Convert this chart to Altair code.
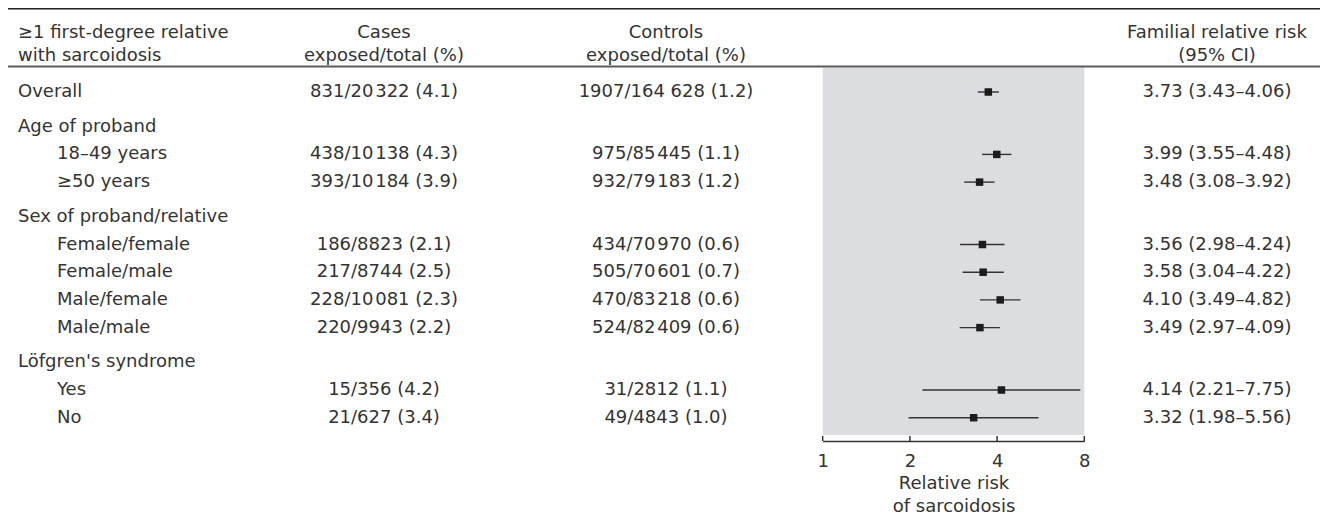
import altair as alt
import pandas as pd

# ---------------- data ----------------
labels = ["Overall", "Age of proband", "18–49 years", "≥50 years",
          "Sex of proband/relative", "Female/female", "Female/male",
          "Male/female", "Male/male", "Löfgren's syndrome", "Yes", "No"]
is_group = [True, True, False, False, True, False, False, False, False,
            True, False, False]
group_id = [0, 1, 1, 1, 2, 2, 2, 2, 2, 3, 3, 3]
cases = ["831/20\u200a322 (4.1)", "", "438/10\u200a138 (4.3)", "393/10\u200a184 (3.9)", "",
         "186/8823 (2.1)", "217/8744 (2.5)", "228/10\u200a081 (2.3)", "220/9943 (2.2)", "",
         "15/356 (4.2)", "21/627 (3.4)"]
controls = ["1907/164 628 (1.2)", "", "975/85\u200a445 (1.1)", "932/79\u200a183 (1.2)", "",
            "434/70\u200a970 (0.6)", "505/70\u200a601 (0.7)", "470/83\u200a218 (0.6)",
            "524/82\u200a409 (0.6)", "", "31/2812 (1.1)", "49/4843 (1.0)"]
rr = [3.73, None, 3.99, 3.48, None, 3.56, 3.58, 4.10, 3.49, None, 4.14, 3.32]
rr_lo = [3.43, None, 3.55, 3.08, None, 2.98, 3.04, 3.49, 2.97, None, 2.21, 1.98]
rr_hi = [4.06, None, 4.48, 3.92, None, 4.24, 4.22, 4.82, 4.09, None, 7.75, 5.56]

header_left = ["≥1 first-degree relative", "with sarcoidosis"]
header_cases = ["Cases", "exposed/total (%)"]
header_controls = ["Controls", "exposed/total (%)"]
header_rr = ["Familial relative risk", "(95% CI)"]
x_ticks = [1, 2, 4, 8]
x_domain = [1, 8]
x_title = ["Relative risk", "of sarcoidosis"]

# ---------------- layout constants ----------------
FONT = "DejaVu Sans"
FS = 18
TXT = "#333333"
W, H = 1312, 433
ROW = 27.7          # px per row
GAP = 0.253         # extra gap (in rows) before each group
Y0 = 84             # plot y of first row

pos = [i + GAP * g for i, g in enumerate(group_id)]
rows = pd.DataFrame({"label": labels, "group": is_group, "pos": pos,
                     "cases": cases, "controls": controls,
                     "rr": rr, "lo": rr_lo, "hi": rr_hi})
rows["rr_text"] = [
    f"{a:.2f} ({b:.2f}–{c:.2f})" if a is not None and a == a else ""
    for a, b, c in zip(rr, rr_lo, rr_hi)
]
est = rows.dropna(subset=["rr"])

y_scale = alt.Scale(domain=[-Y0 / ROW, (H - Y0) / ROW], range=[0, H],
                    zero=False, nice=False)
x_scale = alt.Scale(type="log", base=2, domain=x_domain,
                    range=[814.7, 1076.3], nice=False)
x_axis = alt.Axis(values=x_ticks, format="d", ticks=False, tickSize=0,
                  grid=False, domainColor="#333333", domainWidth=1.5,
                  labelFont=FONT, labelFontSize=FS, labelColor=TXT,
                  labelPadding=11, labelFlush=False, labelOverlap=False,
                  title=x_title, titleFont=FONT, titleFontSize=FS,
                  titleFontWeight="normal", titleColor=TXT,
                  titleLineHeight=23, titlePadding=4)

Y = alt.Y("pos:Q", scale=y_scale, axis=None)

# gray panel
panel = alt.Chart(pd.DataFrame({"a": [x_domain[0]], "b": [x_domain[1]]})).mark_rect(
    color="#dcdde0").encode(
    x=alt.X("a:Q", scale=x_scale, axis=x_axis), x2="b:Q",
    y=alt.value(59.5), y2=alt.value(427))

# tick marks pointing up
ticks = alt.Chart(pd.DataFrame({"t": x_ticks})).mark_rule(
    color="#333333", strokeWidth=1.5).encode(
    x=alt.X("t:Q", scale=x_scale, axis=x_axis),
    y=alt.value(428), y2=alt.value(433))

# header rules
rule_top = alt.Chart(pd.DataFrame({"k": [0]})).mark_rule(
    color="#222222", strokeWidth=1.6).encode(
    x=alt.value(0), x2=alt.value(W), y=alt.value(0.8))
rule_head = alt.Chart(pd.DataFrame({"k": [0]})).mark_rule(
    color="#5a5a5a", strokeWidth=2.2).encode(
    x=alt.value(0), x2=alt.value(W), y=alt.value(58.5))

# CIs and estimates
ci = alt.Chart(est).mark_rule(color="#333333", strokeWidth=1.4).encode(
    x=alt.X("lo:Q", scale=x_scale, axis=x_axis), x2="hi:Q", y=Y)
pts = alt.Chart(est).mark_square(size=56, color="#1c1c1c", opacity=1).encode(
    x=alt.X("rr:Q", scale=x_scale, axis=x_axis), y=Y)


def col_text(df, field, xpx, align):
    return alt.Chart(df).mark_text(
        font=FONT, fontSize=FS, color=TXT, align=align, baseline="middle").encode(
        x=alt.value(xpx), y=Y, text=f"{field}:N")


txt_group = col_text(rows[rows["group"]], "label", 10, "left")
txt_sub = col_text(rows[~rows["group"]], "label", 49, "left")
txt_cases = col_text(rows, "cases", 376, "center")
txt_ctrl = col_text(rows, "controls", 658, "center")
txt_rr = col_text(rows, "rr_text", 1209, "center")


def head_text(lines, xpx, align):
    return alt.Chart(pd.DataFrame({"t": ["\n".join(lines)]})).mark_text(
        font=FONT, fontSize=FS, color=TXT, align=align, baseline="middle",
        lineBreak="\n", lineHeight=23).encode(
        x=alt.value(xpx), y=alt.value(24.5), text="t:N")


h1 = head_text(header_left, 10, "left")
h2 = head_text(header_cases, 376, "center")
h3 = head_text(header_controls, 658, "center")
h4 = head_text(header_rr, 1209, "center")

chart = alt.layer(
    panel, ticks, rule_top, rule_head, ci, pts,
    txt_group, txt_sub, txt_cases, txt_ctrl, txt_rr, h1, h2, h3, h4
).properties(
    width=W, height=H,
    background="white",
    autosize=alt.AutoSizeParams(type="none"),
    padding={"left": 0, "top": 0, "right": 0, "bottom": 76}
).configure_view(strokeWidth=0, stroke="transparent")

chart.save("out.html", embed_options={"renderer": "svg", "actions": False})
